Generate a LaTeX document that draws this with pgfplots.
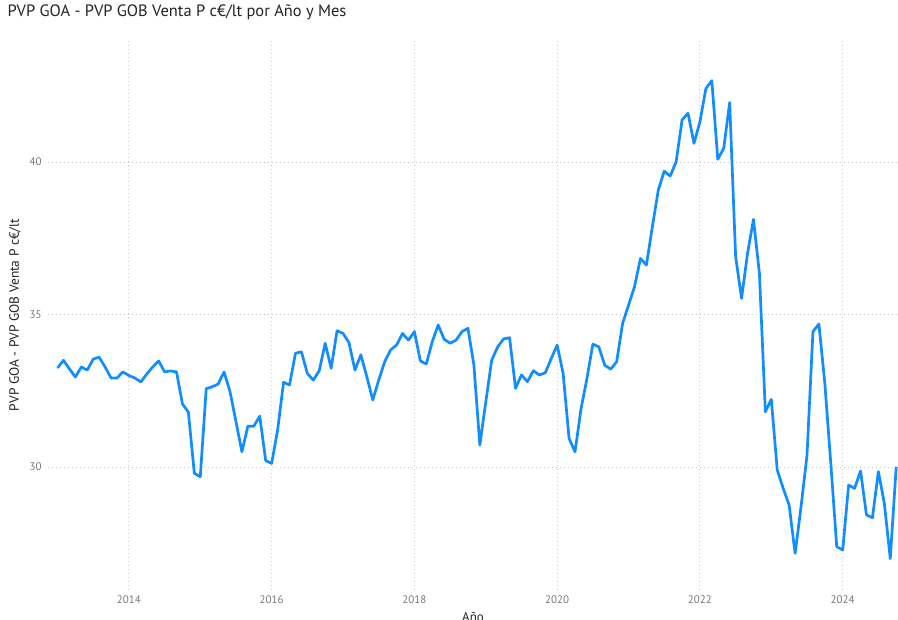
\documentclass[border=0pt]{standalone}
\usepackage{fontspec}
\setmainfont{PT Sans}
\usepackage{pgfplots}
\pgfplotsset{compat=1.18}
\usepackage{pgfplotstable}
\definecolor{pbiblue}{HTML}{118DFF}
\definecolor{titlegray}{HTML}{252423}
\definecolor{tickgray}{HTML}{777777}
\definecolor{gridgray}{HTML}{C8C6C4}

% monthly values, m = months since Jan 2013
\pgfplotstableread{
m v
0 33.25
1 33.50
2 33.22
3 32.95
4 33.28
5 33.18
6 33.54
7 33.60
8 33.28
9 32.92
10 32.92
11 33.12
12 33.00
13 32.92
14 32.79
15 33.05
16 33.28
17 33.48
18 33.12
19 33.15
20 33.12
21 32.07
22 31.80
23 29.80
24 29.68
25 32.57
26 32.63
27 32.72
28 33.12
29 32.47
30 31.49
31 30.50
32 31.34
33 31.34
34 31.67
35 30.21
36 30.12
37 31.21
38 32.78
39 32.69
40 33.73
41 33.78
42 33.07
43 32.85
44 33.16
45 34.06
46 33.24
47 34.47
48 34.38
49 34.08
50 33.18
51 33.68
52 32.96
53 32.20
54 32.85
55 33.45
56 33.84
57 34.00
58 34.38
59 34.16
60 34.44
61 33.48
62 33.38
63 34.11
64 34.66
65 34.19
66 34.06
67 34.16
68 34.44
69 34.55
70 33.34
71 30.72
72 32.14
73 33.51
74 33.94
75 34.20
76 34.24
77 32.58
78 33.02
79 32.80
80 33.16
81 33.02
82 33.09
83 33.56
84 34.00
85 33.07
86 30.94
87 30.50
88 31.90
89 32.90
90 34.03
91 33.94
92 33.34
93 33.21
94 33.45
95 34.71
96 35.31
97 35.91
98 36.84
99 36.62
100 37.88
101 39.08
102 39.70
103 39.54
104 40.01
105 41.38
106 41.60
107 40.61
108 41.32
109 42.41
110 42.67
111 40.09
112 40.45
113 41.95
114 36.90
115 35.53
116 37.00
117 38.12
118 36.35
119 31.81
120 32.22
121 29.90
122 29.30
123 28.75
124 27.17
125 28.70
126 30.39
127 34.44
128 34.69
129 32.74
130 30.12
131 27.39
132 27.28
133 29.41
134 29.30
135 29.87
136 28.43
137 28.34
138 29.85
139 28.81
140 27.00
141 30.01
}\spread

\begin{document}
\begin{tikzpicture}
\useasboundingbox (-48bp,-30bp) rectangle (850bp,590bp);
\begin{axis}[
    anchor=south west, at={(0,0)},
    scale only axis,
    width=850bp, height=550bp,
    xmin=-1.6, xmax=141.3,
    ymin=25.97, ymax=44.0,
    axis line style={draw=none},
    major tick length=0pt,
    xtick={12,36,60,84,108,132},
    xticklabels={2014,2016,2018,2020,2022,2024},
    ytick={30,35,40},
    grid=major,
    major grid style={gridgray, line width=0.9bp, dash pattern=on 1bp off 3bp},
    ticklabel style={font=\fontsize{11}{13}\selectfont, text=tickgray},
    /pgf/number format/assume math mode=true,
    xticklabel style={yshift=-2bp},
    yticklabel style={xshift=-3bp},
    title={PVP GOA - PVP GOB Venta P c€/lt por Año y Mes},
    title style={at={(axis description cs:0,1)}, anchor=west,
                 xshift=-44bp, yshift=22bp, text=titlegray,
                 font=\fontsize{16.5}{19}\selectfont},
    xlabel={Año},
    xlabel style={at={(axis description cs:0.5,0)}, anchor=north,
                  yshift=-19bp, text=titlegray, font=\fontsize{13}{15}\selectfont},
    ylabel={PVP GOA - PVP GOB Venta P c€/lt},
    ylabel style={at={(axis description cs:-0.0388,0.5)}, anchor=center,
                  text=titlegray, font=\fontsize{13.5}{15}\selectfont},
  ]
  \addplot[pbiblue, line width=2.7bp, line join=round, no markers]
    table[x=m, y=v]{\spread};
\end{axis}
\end{tikzpicture}
\end{document}
